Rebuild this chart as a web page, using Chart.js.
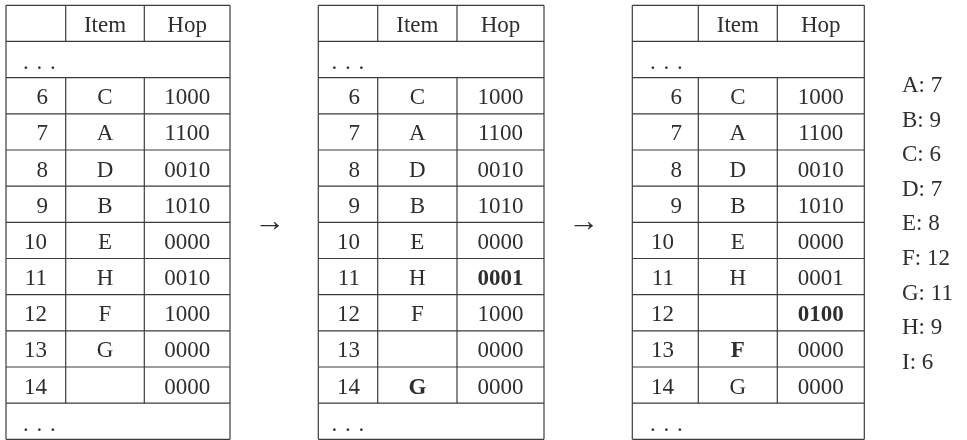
<!DOCTYPE html>
<html>
<head>
<meta charset="utf-8">
<script src="https://cdn.jsdelivr.net/npm/chart.js@4"></script>
<style>
  html, body { margin: 0; padding: 0; background: #fff; }
  #wrap { width: 967px; height: 440px; }
</style>
</head>
<body>
<div id="wrap"><canvas id="hashChart" width="967" height="440"></canvas></div>
<script>
// slot numbers shown in every table
const slots = [6, 7, 8, 9, 10, 11, 12, 13, 14];
const headers = ['', 'Item', 'Hop'];

// table 1: before
const itemsBefore = ['C', 'A', 'D', 'B', 'E', 'H', 'F', 'G', ''];
const hopsBefore = ['1000', '1100', '0010', '1010', '0000', '0010', '1000', '0000', '0000'];

// table 2: G moved to 14
const itemsMid = ['C', 'A', 'D', 'B', 'E', 'H', 'F', '', 'G'];
const hopsMid = ['1000', '1100', '0010', '1010', '0000', '0001', '1000', '0000', '0000'];
const boldItemsMid = [14];
const boldHopsMid = [11];

// table 3: F moved to 13
const itemsAfter = ['C', 'A', 'D', 'B', 'E', 'H', '', 'F', 'G'];
const hopsAfter = ['1000', '1100', '0010', '1010', '0000', '0001', '0100', '0000', '0000'];
const boldItemsAfter = [13];
const boldHopsAfter = [12];

// home slot of every key
const keys = ['A', 'B', 'C', 'D', 'E', 'F', 'G', 'H', 'I'];
const homeSlots = [7, 9, 6, 7, 8, 12, 11, 9, 6];

// layout (pixels in the 967x440 value space)
const TOP = 5.3;
const ROW_H = 36.17;
const ROWS = slots.length + 3;
const FONT = '"Liberation Serif", "DejaVu Serif", serif';
const SIZE = 23;
const INK = '#2e2e2e';
const LINE = '#3c3c3c';

const tables = [
    { cols: [6, 65.7, 144.3, 230], idx: 48, idxWide: 47, dots: 23,
      items: itemsBefore, hops: hopsBefore, boldItems: [], boldHops: [] },
    { cols: [318.3, 377.7, 457, 544], idx: 360, idxWide: 360, dots: 331.5,
      items: itemsMid, hops: hopsMid, boldItems: boldItemsMid, boldHops: boldHopsMid },
    { cols: [632.3, 698.3, 777.3, 864.3], idx: 682, idxWide: 674, dots: 650,
      items: itemsAfter, hops: hopsAfter, boldItems: boldItemsAfter, boldHops: boldHopsAfter }
];
const arrowsX = [270, 584];
const arrowY = 223;
const listX = 902;
const listTop = 92;
const listStep = 34.6;

const tablePlugin = {
    id: 'tablePlugin',
    afterDraw(chart) {
        const ctx = chart.ctx;
        const xs = chart.scales.x;
        const ys = chart.scales.y;
        const px = v => xs.getPixelForValue(v);
        const py = v => ys.getPixelForValue(v);
        const rowY = i => TOP + i * ROW_H;

        ctx.save();
        ctx.strokeStyle = LINE;
        ctx.lineWidth = 1.2;
        ctx.fillStyle = INK;

        const line = (x1, y1, x2, y2) => {
            ctx.beginPath();
            ctx.moveTo(px(x1), py(y1));
            ctx.lineTo(px(x2), py(y2));
            ctx.stroke();
        };
        const text = (s, x, y, align, bold) => {
            ctx.font = (bold ? 'bold ' : '') + SIZE + 'px ' + FONT;
            ctx.textAlign = align;
            ctx.textBaseline = 'alphabetic';
            ctx.fillText(s, px(x), py(y));
        };
        const dots = (x, y) => {
            for (let k = 0; k < 3; k++) text('.', x + k * 13.5, y, 'left', false);
        };

        tables.forEach(t => {
            const [x0, x1, x2, x3] = t.cols;
            // horizontal rules
            for (let i = 0; i <= ROWS; i++) line(x0, rowY(i), x3, rowY(i));
            // outer verticals
            line(x0, rowY(0), x0, rowY(ROWS));
            line(x3, rowY(0), x3, rowY(ROWS));
            // inner verticals: header and slot rows only
            [x1, x2].forEach(x => {
                line(x, rowY(0), x, rowY(1));
                line(x, rowY(2), x, rowY(ROWS - 1));
            });

            const base = i => rowY(i) + ROW_H / 2 + 8.5;
            text(headers[1], (x1 + x2) / 2, base(0), 'center', false);
            text(headers[2], (x2 + x3) / 2, base(0), 'center', false);
            dots(t.dots, base(1) + 1);
            slots.forEach((s, k) => {
                const r = k + 2;
                const label = String(s);
                text(label, label.length > 1 ? t.idxWide : t.idx, base(r), 'right', false);
                if (t.items[k]) text(t.items[k], (x1 + x2) / 2, base(r), 'center', t.boldItems.includes(s));
                text(t.hops[k], (x2 + x3) / 2, base(r), 'center', t.boldHops.includes(s));
            });
            dots(t.dots, base(ROWS - 1) + 1);
        });

        // arrows between tables
        ctx.font = '31px ' + FONT;
        ctx.textAlign = 'center';
        ctx.textBaseline = 'middle';
        arrowsX.forEach(x => ctx.fillText('\u2192', px(x), py(arrowY)));

        // home slot list
        keys.forEach((key, k) => {
            text(key + ': ' + homeSlots[k], listX, listTop + k * listStep, 'left', false);
        });
        ctx.restore();
    }
};

new Chart(document.getElementById('hashChart'), {
    type: 'scatter',
    data: { datasets: [{ data: [] }] },
    options: {
        responsive: false,
        animation: false,
        layout: { padding: 0 },
        plugins: { legend: { display: false }, tooltip: { enabled: false } },
        scales: {
            x: { type: 'linear', min: 0, max: 967, display: false },
            y: { type: 'linear', min: 0, max: 440, reverse: true, display: false }
        }
    },
    plugins: [tablePlugin]
});
</script>
</body>
</html>
